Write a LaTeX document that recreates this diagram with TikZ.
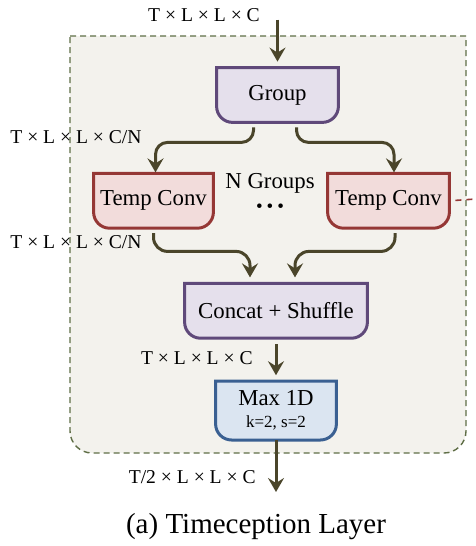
\documentclass[tikz,border=0pt]{standalone}
\usepackage{fontspec}
\setmainfont{Liberation Serif}
\usetikzlibrary{positioning, arrows.meta, backgrounds}
\definecolor{FlowColor}{RGB}{74, 69, 42}
\definecolor{FrameFill}{RGB}{243, 242, 237}
\definecolor{FrameLine}{RGB}{95, 110, 70}
\definecolor{GroupFill}{RGB}{229, 224, 236}
\definecolor{GroupLine}{RGB}{95, 73, 122}
\definecolor{ConvFill}{RGB}{242, 220, 219}
\definecolor{ConvLine}{RGB}{149, 55, 53}
\definecolor{PoolFill}{RGB}{219, 229, 241}
\definecolor{PoolLine}{RGB}{58, 96, 146}
\tikzset{
    block/.style={
        minimum height=27pt,
        inner sep=2pt,
        align=center,
        font=\fontsize{11.4}{12}\selectfont
    },
    cup/.style={line width=1.5pt},
    dim/.style={font=\fontsize{9.8}{11}\selectfont, inner sep=0pt},
    flow/.style={
        draw=FlowColor,
        line width=1.5pt,
        line join=round,
        -{Stealth[length=7pt, width=8pt, inset=2.5pt]}
    },
    frame/.style={
        draw=FrameLine,
        fill=FrameFill,
        line width=0.7pt,
        dash pattern=on 3pt off 2pt
    }
}

\begin{document}
\begin{tikzpicture}

    \useasboundingbox (0,0) rectangle (238pt,-273pt);

    % ============================================================================
    % BLOCKS
    % ============================================================================

    % Top: Group
    \node[block, minimum width=60.5pt] (Group) at (138.75pt,-47.5pt) {Group};

    % Middle: one Temp Conv per group
    \node[block, minimum width=59.5pt, below=25.5pt of Group, xshift=-62pt] (TempL) {Temp Conv};
    \node[block, minimum width=60.5pt, below=25.5pt of Group, xshift=55.5pt] (TempR) {Temp Conv};

    % Bottom: Concat + Shuffle, then Max 1D
    \node[block, minimum width=91pt, below=80.5pt of Group, xshift=-0.75pt] (Concat) {Concat + Shuffle};
    \node[block, minimum width=60pt, minimum height=29pt, below=21.5pt of Concat] (Max) {Max 1D\\[-1pt]{\fontsize{8.5}{10}\selectfont k=2, s=2}};

    % Free ends
    \coordinate (In) at ([yshift=24pt]Group.north);
    \coordinate (Out) at ([yshift=-26pt]Max.south);
    \coordinate (Next) at (238pt,-99.5pt);

    % ============================================================================
    % FRAME AND BLOCK OUTLINES (square top, rounded bottom)
    % ============================================================================
    \begin{scope}[on background layer]
        \draw[frame] (35pt,-18pt) -- (233pt,-18pt) -- (233pt,-215.5pt)
            arc[start angle=0, end angle=-90, radius=11pt] -- (46pt,-226.5pt)
            arc[start angle=270, end angle=180, radius=11pt] -- cycle;
        \foreach \blk/\fillc/\linec in {Group/GroupFill/GroupLine, TempL/ConvFill/ConvLine,
                TempR/ConvFill/ConvLine, Concat/GroupFill/GroupLine, Max/PoolFill/PoolLine}
            \draw[cup, fill=\fillc, draw=\linec] (\blk.north west) -- (\blk.north east)
                -- ([yshift=8pt]\blk.south east) arc[start angle=0, end angle=-90, radius=8pt]
                -- ([xshift=8pt]\blk.south west) arc[start angle=270, end angle=180, radius=8pt]
                -- cycle;
    \end{scope}

    % ============================================================================
    % LABELS
    % ============================================================================
    \node[dim] (InSize) at (102pt,-7.5pt) {T × L × L × C};
    \node[dim, anchor=west] (SplitSize) at (5pt,-68.5pt) {T × L × L × C/N};
    \node[dim, anchor=west] (ConvSize) at (5pt,-121pt) {T × L × L × C/N};
    \node[dim, anchor=east] (MixSize) at (126.5pt,-179pt) {T × L × L × C};
    \node[dim, anchor=east] (OutSize) at (128pt,-238.5pt) {T/2 × L × L × C};
    \node[font=\fontsize{11.4}{12}\selectfont, inner sep=0pt] (NGroups) at (135pt,-91.5pt) {N Groups};
    \node[font=\fontsize{9.5}{10}\selectfont, inner sep=0pt] (Dots) at (135pt,-104pt)
        {\textbullet\hspace{2pt}\textbullet\hspace{2pt}\textbullet};
    \node[font=\fontsize{14.5}{16}\selectfont, inner sep=0pt] (Caption) at (128pt,-263.5pt) {(a) Timeception Layer};

    % ============================================================================
    % CONNECTIONS
    % ============================================================================
    \draw[flow, shorten >=3pt] (In) -- (In |- Group.north);

    % Group fans out to the Temp Conv blocks
    \draw[flow, rounded corners=6pt] ([xshift=-12pt, yshift=-2.5pt]Group.south)
        |- ([xshift=1pt, yshift=15.5pt]TempL.north) -- ([xshift=1pt, yshift=0.5pt]TempL.north);
    \draw[flow, rounded corners=6pt] ([xshift=9.5pt, yshift=-2.5pt]Group.south)
        |- ([xshift=2.75pt, yshift=15.5pt]TempR.north) -- ([xshift=2.75pt, yshift=0.5pt]TempR.north);

    % Temp Conv blocks merge into Concat + Shuffle
    \draw[flow, rounded corners=7pt] ([yshift=-2.5pt]TempL.south)
        |- ([xshift=-13pt, yshift=16pt]Concat.north) -- ([xshift=-13pt, yshift=3pt]Concat.north);
    \draw[flow, rounded corners=7pt] ([xshift=3.25pt, yshift=-2.5pt]TempR.south)
        |- ([xshift=9.5pt, yshift=16pt]Concat.north) -- ([xshift=9.5pt, yshift=3pt]Concat.north);

    \draw[flow, shorten <=3pt, shorten >=3pt] (Concat.south) -- (Max.north);
    \draw[flow] (Max.south) -- (Out);

    % Next layer
    \draw[draw=ConvLine, line width=0.8pt, dash pattern=on 3pt off 2.5pt, shorten <=3pt] (TempR.east) -- (Next);

\end{tikzpicture}
\end{document}
